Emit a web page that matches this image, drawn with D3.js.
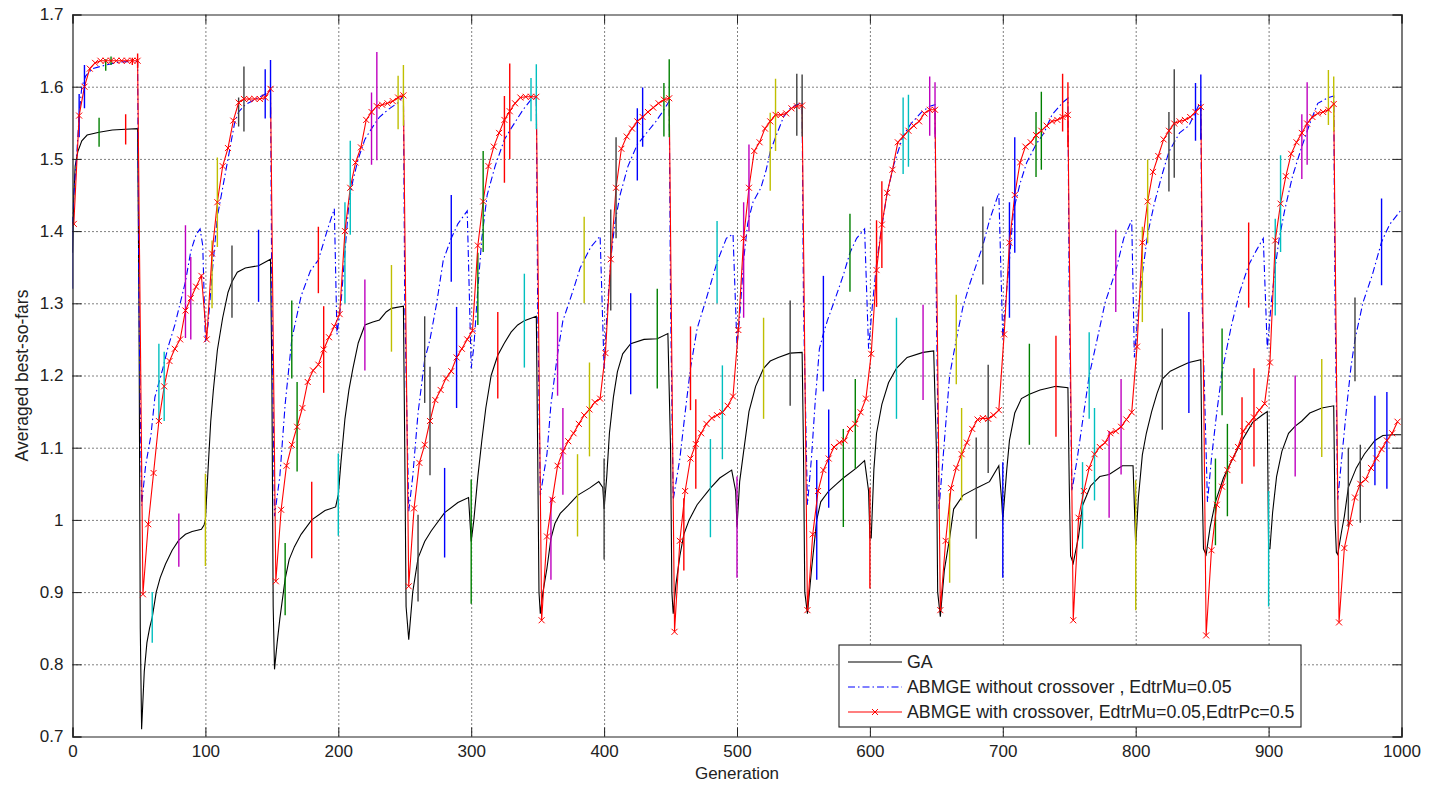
<!DOCTYPE html>
<html>
<head>
<meta charset="utf-8">
<script src="https://cdn.jsdelivr.net/npm/d3@7"></script>
<style>
  body { margin: 0; background: #fff; }
  svg { display: block; font-family: "Liberation Sans", Arial, sans-serif; }
  .axis text { font-size: 17px; fill: #222; }
  .axis path, .axis line { stroke: #222; }
  .grid line { stroke: #000; stroke-dasharray: 1,3; stroke-width: 1; }
  .grid path { display: none; }
</style>
</head>
<body>
<div id="chart"></div>
<script>
// GA, averaged best-so-far, [generation, value]
const gaData = [
  [0,1.37],[1,1.45],[2,1.49],[4,1.51],[7,1.525],[11,1.533],[20,1.537],[30,1.54],[40,1.541],[49,1.542],
  [50,1.3],[51,0.85],[52,0.71],[54,0.79],[56,0.83],[58,0.85],[60,0.865],[63,0.9],[66,0.92],[70,0.939],[75,0.958],[80,0.972],[85,0.98],[90,0.984],[97,0.987],[99,0.993],
  [100,1.0],[102,1.07],[104,1.136],[106,1.18],[109,1.235],[113,1.28],[117,1.315],[120,1.33],[124,1.343],[130,1.349],[140,1.352],[149,1.361],
  [150,1.2],[151,0.88],[152,0.793],[154,0.83],[156,0.863],[160,0.918],[163,0.945],[167,0.963],[172,0.98],[180,1.0],[190,1.013],[198,1.018],
  [200,1.035],[202,1.08],[205,1.14],[208,1.18],[211,1.21],[215,1.245],[220,1.27],[226,1.274],[231,1.277],[236,1.288],[240,1.293],[249,1.296],
  [250,1.1],[251,0.88],[253,0.834],[256,0.9],[260,0.947],[265,0.97],[270,0.985],[280,1.01],[290,1.024],[298,1.031],
  [300,0.97],[302,1.0],[305,1.06],[308,1.11],[311,1.155],[315,1.2],[320,1.228],[325,1.245],[330,1.26],[335,1.27],[340,1.276],[349,1.282],
  [350,1.1],[351,0.9],[352,0.87],[354,0.9],[357,0.933],[360,0.974],[363,0.995],[367,1.009],[373,1.02],[380,1.034],[389,1.044],[396,1.053],[399,1.045],
  [400,1.015],[402,1.06],[404,1.12],[407,1.17],[410,1.205],[414,1.23],[420,1.244],[430,1.25],[440,1.251],[448,1.258],
  [450,1.1],[451,0.9],[452,0.87],[454,0.91],[457,0.95],[460,0.98],[464,1.0],[470,1.021],[480,1.044],[487,1.058],[496,1.069],
  [499,1.04],[500,0.99],[502,1.053],[505,1.095],[509,1.15],[514,1.185],[520,1.21],[525,1.22],[531,1.225],[540,1.231],[549,1.232],
  [550,1.1],[551,0.9],[553,0.87],[556,0.93],[560,1.0],[563,1.025],[569,1.04],[575,1.05],[580,1.058],[590,1.072],[596,1.082],
  [599,1.04],[600,0.975],[601,0.975],[603,1.07],[605,1.12],[609,1.16],[614,1.19],[620,1.21],[628,1.225],[640,1.232],[648,1.234],
  [650,1.1],[651,0.9],[653,0.866],[656,0.93],[660,0.975],[663,1.015],[670,1.034],[680,1.044],[690,1.053],[697,1.075],
  [699,1.03],[700,1.0],[703,1.07],[705,1.11],[709,1.148],[714,1.168],[720,1.174],[728,1.18],[740,1.185],[749,1.183],
  [750,1.05],[751,0.95],[753,0.94],[757,0.977],[760,1.02],[766,1.047],[773,1.06],[780,1.063],[790,1.075],[798,1.075],
  [800,0.965],[802,1.03],[805,1.09],[808,1.12],[812,1.15],[816,1.175],[820,1.195],[826,1.206],[833,1.212],[840,1.218],[849,1.222],
  [850,1.05],[851,0.96],[853,0.952],[856,0.99],[860,1.025],[866,1.058],[873,1.085],[880,1.11],[888,1.135],[895,1.145],[899,1.15],
  [900,0.96],[901,0.96],[903,1.01],[906,1.06],[910,1.095],[915,1.12],[920,1.13],[925,1.137],[931,1.148],[940,1.155],[949,1.158],
  [950,1.0],[951,0.955],[952,0.952],[955,0.985],[957,1.005],[960,1.045],[966,1.072],[972,1.091],[980,1.11],[986,1.117],[994,1.118],[1000,1.118]
];

// ABMGE without crossover, [generation, value]
const noCrossData = [
  [0,1.41],[1,1.45],[3,1.5],[5,1.56],[7,1.6],[10,1.615],[15,1.625],[25,1.63],[35,1.634],[45,1.635],[49,1.635],
  [50,1.3],[52,1.02],[55,1.075],[59,1.117],[62,1.17],[65,1.19],[68,1.21],[72,1.24],[77,1.27],[81,1.3],[85,1.33],[89,1.372],[93,1.395],[96,1.403],[98,1.38],
  [100,1.247],[102,1.27],[105,1.34],[109,1.42],[112,1.45],[117,1.5],[122,1.55],[125,1.565],[130,1.575],[140,1.585],[145,1.59],[149,1.595],
  [150,1.3],[152,1.005],[156,1.06],[160,1.16],[165,1.25],[172,1.31],[179,1.345],[185,1.36],[192,1.403],[197,1.431],
  [199,1.257],[202,1.3],[205,1.37],[208,1.44],[211,1.47],[215,1.5],[220,1.527],[225,1.542],[231,1.558],[238,1.569],[245,1.578],[249,1.587],
  [250,1.3],[253,1.012],[256,1.06],[260,1.148],[265,1.222],[269,1.25],[274,1.3],[279,1.36],[285,1.39],[290,1.41],[297,1.428],
  [300,1.21],[302,1.24],[305,1.32],[308,1.39],[312,1.45],[318,1.49],[325,1.527],[331,1.545],[339,1.568],[345,1.582],[349,1.585],
  [350,1.3],[352,1.034],[357,1.091],[360,1.16],[365,1.23],[369,1.276],[376,1.314],[382,1.349],[385,1.36],[390,1.378],[397,1.393],
  [400,1.21],[402,1.28],[405,1.36],[408,1.41],[412,1.45],[418,1.49],[425,1.52],[432,1.536],[439,1.552],[445,1.568],[449,1.58],
  [450,1.3],[452,1.028],[457,1.085],[461,1.149],[465,1.21],[470,1.265],[477,1.307],[485,1.357],[492,1.39],[497,1.396],
  [500,1.24],[502,1.28],[505,1.36],[508,1.41],[512,1.44],[518,1.46],[522,1.485],[525,1.51],[529,1.53],[535,1.558],[540,1.57],[545,1.575],[549,1.578],
  [550,1.3],[553,1.021],[556,1.085],[559,1.168],[562,1.237],[565,1.258],[568,1.276],[574,1.307],[580,1.339],[585,1.37],[590,1.39],[596,1.403],
  [599,1.237],[602,1.3],[605,1.355],[608,1.395],[613,1.453],[618,1.492],[625,1.532],[631,1.549],[639,1.565],[645,1.573],[649,1.575],
  [650,1.3],[652,1.015],[655,1.085],[660,1.2],[665,1.25],[670,1.295],[675,1.326],[685,1.38],[690,1.415],[697,1.453],
  [700,1.25],[702,1.3],[705,1.36],[708,1.428],[713,1.466],[718,1.495],[725,1.52],[731,1.536],[737,1.561],[745,1.578],[749,1.584],
  [750,1.3],[752,1.04],[756,1.085],[761,1.149],[765,1.2],[771,1.25],[777,1.301],[785,1.345],[791,1.39],[797,1.415],
  [799,1.225],[802,1.29],[805,1.34],[809,1.396],[814,1.438],[820,1.479],[825,1.51],[833,1.536],[840,1.546],[845,1.565],[849,1.58],
  [850,1.3],[854,1.025],[857,1.085],[861,1.149],[865,1.205],[872,1.269],[878,1.314],[885,1.353],[891,1.374],[896,1.39],
  [899,1.237],[902,1.3],[905,1.35],[908,1.39],[912,1.428],[918,1.476],[925,1.517],[931,1.549],[937,1.577],[945,1.585],[949,1.587],
  [950,1.3],[952,1.028],[955,1.085],[959,1.161],[962,1.212],[965,1.25],[971,1.301],[978,1.339],[985,1.385],[991,1.409],[1000,1.43]
];

// ABMGE with crossover, sampled at generations 1, 5, 9, ... 997 (the 'x' markers)
const crossGens = d3.range(1, 1000, 4);
const crossVals = [
  1.41,1.56,1.60,1.625,1.633,1.636,1.636,1.636,1.636,1.636,1.636,1.636,1.636,
  0.897,0.994,1.065,1.137,1.185,1.22,1.237,1.25,1.29,1.307,1.323,1.338,
  1.25,1.369,1.44,1.49,1.515,1.553,1.578,1.583,1.583,1.583,1.583,1.585,1.597,
  0.915,1.014,1.075,1.104,1.129,1.155,1.191,1.207,1.215,1.236,1.253,1.268,
  1.285,1.40,1.46,1.495,1.516,1.554,1.565,1.573,1.575,1.577,1.58,1.585,1.588,
  0.908,1.016,1.079,1.104,1.137,1.166,1.18,1.196,1.206,1.225,1.237,1.25,
  1.262,1.38,1.441,1.49,1.517,1.536,1.554,1.566,1.577,1.585,1.586,1.586,1.586,
  0.861,0.977,1.028,1.075,1.095,1.109,1.12,1.133,1.145,1.153,1.163,1.168,
  1.231,1.361,1.46,1.514,1.531,1.542,1.552,1.558,1.565,1.571,1.577,1.582,1.584,
  0.845,0.971,1.04,1.085,1.105,1.12,1.133,1.141,1.145,1.149,1.158,1.171,
  1.263,1.39,1.46,1.511,1.523,1.542,1.552,1.561,1.561,1.563,1.57,1.573,1.574,
  0.875,0.98,1.04,1.069,1.085,1.101,1.107,1.11,1.126,1.133,1.149,1.168,
  1.23,1.346,1.409,1.453,1.485,1.523,1.531,1.539,1.546,1.552,1.563,1.568,1.568,
  0.875,0.971,1.044,1.072,1.091,1.107,1.126,1.139,1.141,1.14,1.145,1.152,
  1.257,1.384,1.45,1.495,1.517,1.523,1.533,1.539,1.546,1.552,1.554,1.558,1.561,
  0.861,1.003,1.04,1.072,1.091,1.101,1.107,1.12,1.123,1.129,1.139,1.149,
  1.24,1.384,1.441,1.482,1.504,1.527,1.539,1.549,1.552,1.554,1.558,1.565,1.572,
  0.84,0.958,1.021,1.046,1.069,1.085,1.101,1.123,1.133,1.142,1.152,1.161,
  1.218,1.387,1.438,1.476,1.507,1.523,1.536,1.549,1.558,1.563,1.565,1.568,1.576,
  0.858,0.961,0.996,1.031,1.05,1.056,1.072,1.085,1.098,1.11,1.12,1.136
];

// error bars: one every 20 generations per series, half-length (std)
const gaBarGens = d3.range(0, 1000, 20);
const gaBarStd = [
  0.05,0.02,0.021,0.035,0.037,0.064,0.05,0.05,0.05,0.053,0.057,0.063,0.06,0.06,0.062,0.086,0.06,0.065,0.057,0.057,
  0.07,0.07,0.069,0.05,0.068,0.07,0.07,0.073,0.083,0.068,0.07,0.07,0.066,0.062,0.07,0.08,0.07,0.07,0.06,0.06,
  0.09,0.07,0.07,0.06,0.06,0.08,0.07,0.068,0.055,0.062
];
const noCrossBarGens = d3.range(5, 1000, 20);
const noCrossBarStd = [
  0.03,0.008,0.005,0.054,0.078,0.047,0.02,0.034,0.054,0.046,0.07,0.05,0.037,0.06,0.06,0.05,0.06,0.03,0.058,0.06,
  0.07,0.05,0.037,0.058,0.057,0.08,0.054,0.043,0.08,0.054,0.06,0.053,0.041,0.062,0.054,0.08,0.045,0.04,0.06,0.057,
  0.066,0.055,0.04,0.06,0.059,0.067,0.045,0.038,0.058,0.06
];
const crossBarGens = d3.range(9, 1000, 20);
const crossBarStd = [
  0.03,0.006,0.01,0.048,0.057,0.062,0.045,0.04,0.062,0.06,0.065,0.075,0.042,0.075,0.07,0.07,0.066,0.045,0.06,0.065,
  0.07,0.041,0.054,0.062,0.065,0.06,0.05,0.043,0.068,0.062,0.06,0.05,0.038,0.064,0.075,0.08,0.054,0.045,0.064,0.066,
  0.058,0.075,0.045,0.064,0.068,0.067,0.057,0.038,0.054,0.067
];

const xTicks = d3.range(0, 1001, 100);
const yTicks = d3.range(0.7, 1.71, 0.1);
const legendLabels = [
  "GA",
  "ABMGE without crossover , EdtrMu=0.05",
  "ABMGE with crossover, EdtrMu=0.05,EdtrPc=0.5"
];

// MATLAB default color order used for the error bars
const barColors = ["#0000ff", "#008000", "#ff0000", "#00bfbf", "#bf00bf", "#bfbf00", "#404040"];

var chart = {
    width: 1435,
    height: 785,
    left: 72.5, right: 1401.5, top: 14.5, bottom: 736.5,

    draw: function() {
        let svg = d3.select("#chart").append("svg")
            .attr("width", this.width)
            .attr("height", this.height);
        this.svg = svg;
        this.x = d3.scaleLinear().domain([0, 1000]).range([this.left, this.right]);
        this.y = d3.scaleLinear().domain([0.7, 1.7]).range([this.bottom, this.top]);

        svg.append("rect")
            .attr("x", this.left).attr("y", this.top)
            .attr("width", this.right - this.left).attr("height", this.bottom - this.top)
            .attr("fill", "#fff");

        svg.append("clipPath").attr("id", "plotArea").append("rect")
            .attr("x", this.left).attr("y", this.top - 2)
            .attr("width", this.right - this.left).attr("height", this.bottom - this.top + 4);

        this.drawGrid();

        let plotG = svg.append("g").attr("clip-path", "url(#plotArea)");
        let crossData = crossGens.map((g, i) => [g, crossVals[i]]);

        this.drawLine(plotG, gaData, "#000", null);
        this.drawBars(plotG, gaData, gaBarGens, gaBarStd);
        this.drawLine(plotG, noCrossData, "#0000ff", "7,3,1.5,3");
        this.drawBars(plotG, noCrossData, noCrossBarGens, noCrossBarStd);
        this.drawLine(plotG, crossData, "#ff0000", null);
        this.drawBars(plotG, crossData, crossBarGens, crossBarStd);
        this.drawMarkers(plotG, crossData);

        this.drawAxes();
        this.drawLegend();
    },

    drawGrid: function() {
        let h = this.bottom - this.top, w = this.right - this.left;
        this.svg.append("g")
            .attr("class", "grid")
            .attr("transform", "translate(0," + this.bottom + ")")
            .call(d3.axisBottom(this.x).tickValues(xTicks.slice(1, -1)).tickSize(-h).tickFormat(""));
        this.svg.append("g")
            .attr("class", "grid")
            .attr("transform", "translate(" + this.left + ",0)")
            .call(d3.axisLeft(this.y).tickValues(yTicks.slice(1, -1)).tickSize(-w).tickFormat(""));
    },

    drawLine: function(g, data, color, dash) {
        let line = d3.line()
            .x(d => this.x(d[0]))
            .y(d => this.y(d[1]));
        g.append("path")
            .datum(data)
            .attr("fill", "none")
            .attr("stroke", color)
            .attr("stroke-width", 1.1)
            .attr("stroke-dasharray", dash)
            .attr("d", line);
    },

    drawBars: function(g, data, gens, stds) {
        let byGen = new Map(data.map(d => [d[0], d[1]]));
        gens.forEach((gen, i) => {
            let mean = byGen.get(gen);
            if (mean === undefined) return;
            g.append("line")
                .attr("x1", this.x(gen)).attr("x2", this.x(gen))
                .attr("y1", this.y(mean - stds[i])).attr("y2", this.y(mean + stds[i]))
                .attr("stroke", barColors[i % barColors.length])
                .attr("stroke-width", 1.4);
        });
    },

    drawMarkers: function(g, data) {
        g.selectAll(".mk")
            .data(data)
            .enter().append("path")
            .attr("class", "mk")
            .attr("transform", d => "translate(" + this.x(d[0]) + "," + this.y(d[1]) + ")")
            .attr("d", "M-3,-3L3,3M-3,3L3,-3")
            .attr("stroke", "#ff0000")
            .attr("stroke-width", 1);
    },

    drawAxes: function() {
        let svg = this.svg;
        let fmtY = d => (Math.abs(d - 1) < 1e-9 ? "1" : d3.format(".1f")(d));
        svg.append("g").attr("class", "axis")
            .attr("transform", "translate(0," + this.bottom + ")")
            .call(d3.axisBottom(this.x).tickValues(xTicks).tickSize(-9).tickPadding(8).tickFormat(d3.format("d")));
        svg.append("g").attr("class", "axis")
            .attr("transform", "translate(0," + this.top + ")")
            .call(d3.axisTop(this.x).tickValues(xTicks).tickSize(-9).tickFormat(""));
        svg.append("g").attr("class", "axis")
            .attr("transform", "translate(" + this.left + ",0)")
            .call(d3.axisLeft(this.y).tickValues(yTicks).tickSize(-9).tickPadding(9).tickFormat(fmtY));
        svg.append("g").attr("class", "axis")
            .attr("transform", "translate(" + this.right + ",0)")
            .call(d3.axisRight(this.y).tickValues(yTicks).tickSize(-9).tickFormat(""));
        svg.selectAll(".axis .domain").attr("stroke-width", 1.2);

        svg.append("text")
            .attr("x", (this.left + this.right) / 2)
            .attr("y", 779)
            .attr("text-anchor", "middle")
            .attr("font-size", 17)
            .attr("fill", "#222")
            .text("Generation");
        svg.append("text")
            .attr("transform", "translate(28," + ((this.top + this.bottom) / 2) + ") rotate(-90)")
            .attr("text-anchor", "middle")
            .attr("font-size", 17.5)
            .attr("fill", "#222")
            .text("Averaged best-so-fars");
    },

    drawLegend: function() {
        let lg = this.svg.append("g").attr("transform", "translate(839,645)");
        lg.append("rect")
            .attr("width", 462).attr("height", 82)
            .attr("fill", "#fff").attr("stroke", "#222").attr("stroke-width", 1.1);
        let styles = [
            { color: "#000", dash: null, mark: false },
            { color: "#0000ff", dash: "7,3,1.5,3", mark: false },
            { color: "#ff0000", dash: null, mark: true }
        ];
        legendLabels.forEach((label, i) => {
            let yy = 17 + i * 25;
            lg.append("line")
                .attr("x1", 9).attr("x2", 63).attr("y1", yy).attr("y2", yy)
                .attr("stroke", styles[i].color).attr("stroke-width", 1.1)
                .attr("stroke-dasharray", styles[i].dash);
            if (styles[i].mark) {
                lg.append("path")
                    .attr("transform", "translate(36," + yy + ")")
                    .attr("d", "M-3,-3L3,3M-3,3L3,-3")
                    .attr("stroke", "#ff0000");
            }
            lg.append("text")
                .attr("x", 68).attr("y", yy)
                .attr("dy", "0.35em")
                .attr("font-size", 17.8)
                .attr("fill", "#222")
                .text(label);
        });
    }
};

chart.draw();
</script>
</body>
</html>
